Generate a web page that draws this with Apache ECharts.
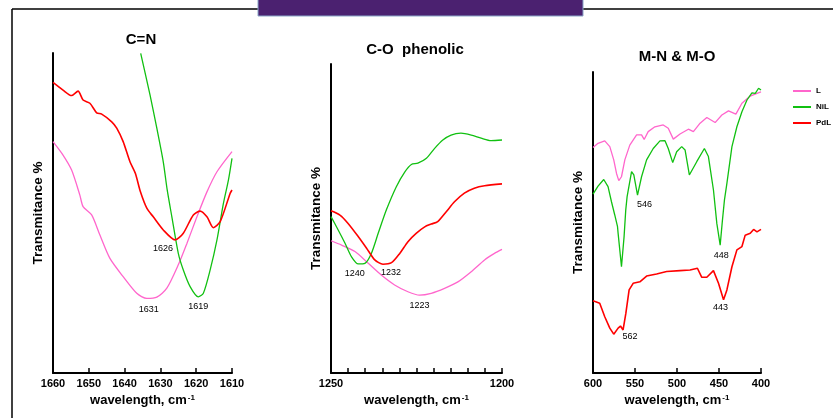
<!DOCTYPE html>
<html>
<head>
<meta charset="utf-8">
<script src="https://cdn.jsdelivr.net/npm/echarts@6/dist/echarts.min.js"></script>
<style>
    html, body { margin: 0; padding: 0; background: #fff; }
    #chart { width: 833px; height: 418px; }
</style>
</head>
<body>
<div id="chart"></div>
<script>
// 三个面板的数据 [波数, 透过率(相对)]
const seriesNames = ['L', 'NiL', 'PdL'];
const colors = ['#ff66cc', '#11c011', '#ff0000'];

// C=N
const cnL = [[1660,72.3],[1657.2,68.1],[1654.8,63.4],[1652.5,55.6],[1651.6,52.0],[1649.2,49.4],[1646.9,43.1],[1644.1,35.8],[1640.4,30.1],[1636.6,24.9],[1633.8,23.3],[1631,23.7],[1628.2,26.5],[1625,33.8],[1622.6,40.5],[1619.8,48.8],[1617,56.6],[1614.2,62.9],[1610,69.2]];
const cnNiL = [[1635.5,99.9],[1632.9,86.9],[1631,76.5],[1629.2,66.0],[1628.1,57.2],[1626.8,48.8],[1625,37.4],[1623.6,32.2],[1621.7,27.0],[1619.4,23.8],[1618,24.9],[1616.1,32.2],[1614.2,41.6],[1612.4,53.0],[1611,60.3],[1610,67.1]];
const cnPdL = [[1660,90.8],[1657.2,88.4],[1654.8,86.7],[1653.0,88.1],[1651.6,85.3],[1649.7,84.3],[1647.8,81.3],[1646.4,80.9],[1643.6,78.5],[1642.2,76.5],[1640.4,72.3],[1638.5,66.0],[1637,62.4],[1635.6,56.7],[1633.8,51.5],[1632,48.8],[1629.2,44.7],[1625.9,41.6],[1623.6,43.7],[1620.8,49.4],[1618.9,50.6],[1617,48.8],[1615.2,45.4],[1613.3,47.3],[1610.5,56.2],[1610,57.2]];

// C-O phenolic
const coL = [[1250,42.8],[1246.9,41.4],[1243,39.3],[1239.1,35.5],[1235.3,31.7],[1231.4,28.5],[1227.5,26.3],[1224.1,25.2],[1220.7,25.8],[1216.8,27.4],[1212.9,29.5],[1209,32.8],[1205.1,36.6],[1202.2,38.7],[1200,40.0]];
const coNiL = [[1250,50.6],[1247.9,46.3],[1245.9,42.0],[1244,37.6],[1242,35.3],[1240.1,35.5],[1238.2,38.7],[1236.2,45.2],[1233.8,52.8],[1230.9,60.3],[1228.4,65.1],[1226.5,67.5],[1224.6,67.9],[1222.1,69.5],[1219.7,72.7],[1217.3,75.4],[1214.9,77.0],[1212,77.6],[1209,77.0],[1206.1,76.0],[1203.2,75.2],[1200,75.4]];
const coPdL = [[1250,52.5],[1247.4,51.1],[1245,48.4],[1242,44.1],[1239.6,40.4],[1237.2,36.6],[1234.8,35.2],[1232.3,35.7],[1229.9,38.7],[1227.5,42.5],[1225.1,45.2],[1222.6,47.3],[1220.7,48.2],[1218.8,49.0],[1216.3,52.2],[1213.9,55.4],[1211,58.2],[1208.1,59.8],[1205.1,60.6],[1200,61.2]];

// M-N & M-O
const mnL = [[600,74.9],[594,76.3],[586,77.1],[580,75.2],[575.3,70.8],[572,66.3],[569.3,63.9],[566.1,65.2],[562.1,70.8],[556.2,75.7],[548.1,79.1],[542.2,79.1],[539.1,77.6],[534.3,80.2],[526.3,81.8],[516.4,82.4],[510.4,81.3],[504.4,77.7],[496.4,79.4],[486.5,81.0],[480.5,80.2],[472.5,83.0],[464.5,84.9],[454.6,83.2],[446.6,85.7],[438.7,87.1],[429.9,86.0],[422.7,89.6],[412.8,92.0],[404.8,92.9],[400,93.4]];
const mnNiL = [[600,59.4],[594,62.1],[587.2,64.3],[582.1,61.9],[578,56.9],[574.1,52.5],[570.8,48.6],[570.1,46.4],[566.1,35.3],[563,45.3],[561,54.2],[559.4,58.6],[554.1,66.9],[551.4,65.8],[547,59.1],[542.2,65.2],[536.2,70.8],[528.3,74.6],[520.3,77.1],[514.3,77.2],[510.4,74.6],[505.1,69.9],[500.4,73.5],[494.4,75.2],[490.4,74.1],[485.3,65.8],[476.5,70.2],[467.4,74.6],[462.6,71.9],[456.6,60.8],[452.6,49.7],[448.6,42.5],[445.9,50.8],[443.5,57.5],[440.6,63.0],[434.6,75.2],[428.7,81.8],[422.7,86.8],[416.7,90.7],[410.8,93.1],[406.8,92.9],[402.9,94.6],[400,94.0]];
const mnPdL = [[600,24.0],[592,23.2],[586,18.7],[580,14.9],[575.3,12.9],[570.1,14.9],[567.3,15.6],[564.2,14.3],[560.9,19.8],[557,27.6],[552.2,29.8],[544.2,30.3],[536.2,32.2],[524.3,32.9],[512.3,33.7],[496.4,34.0],[484.5,34.2],[475.7,34.8],[470.5,31.8],[464.5,31.8],[456.6,34.0],[450.6,29.8],[444.6,24.3],[440.6,27.6],[434.6,35.3],[428.7,40.9],[422.7,42.0],[418.8,45.8],[412.8,46.4],[408.8,47.7],[404.8,46.9],[400,47.7]];

// 峰值标注 [波数, 值, dx, dy, 文字]
const cnPeaks = [[[1631,23.7,-8,12,'1631']],[[1619.4,23.8,0,10,'1619']],[[1625.9,41.6,-12,9,'1626']]];
const coPeaks = [[[1224.1,25.2,0,10,'1223']],[[1241,35.4,-7,10,'1240']],[[1234.8,35.2,8,8,'1232']]];
const mnPeaks = [[],[[547,59.1,7,9,'546'],[448.6,42.5,1,10,'448']],[[564.2,14.3,7,7,'562'],[444.6,24.3,-3,8,'443']]];

const font = 'Arial, "Liberation Sans", sans-serif';

let myChart = echarts.init(document.getElementById('chart'));

const grids = [
    {left: 53, top: 53, width: 179, height: 320},
    {left: 331, top: 64, width: 171, height: 309},
    {left: 593, top: 72, width: 168, height: 301}
];

const xRanges = [
    {min: 1610, max: 1660, interval: 10},
    {min: 1200, max: 1250, interval: 5, only: [1200, 1250]},
    {min: 400, max: 600, interval: 50}
];

const xAxis = xRanges.map(function (r, i) {
    return {
        gridIndex: i,
        type: 'value',
        inverse: true,
        min: r.min,
        max: r.max,
        interval: r.interval,
        name: 'wavelength, cm{sup|-1}',
        nameLocation: 'middle',
        nameGap: 18,
        nameTextStyle: {
            color: '#000', fontWeight: 'bold', fontSize: 13, fontFamily: font,
            rich: {sup: {fontSize: 8, fontWeight: 'bold', verticalAlign: 'top', padding: [0, 0, 6, 1]}}
        },
        axisLine: {show: true, onZero: false, lineStyle: {color: '#000', width: 2}},
        axisTick: {show: true, inside: true, length: 5, lineStyle: {color: '#000', width: 1.5}},
        axisLabel: {
            color: '#000', fontWeight: 'bold', fontSize: 11, fontFamily: font, margin: 5,
            formatter: function (v) {
                if (r.only && r.only.indexOf(v) < 0) return '';
                return String(v);
            }
        },
        splitLine: {show: false}
    };
});

const yAxis = grids.map(function (g, i) {
    return {
        gridIndex: i,
        type: 'value',
        min: 0,
        max: 100,
        name: 'Transmitance %',
        nameLocation: 'middle',
        nameGap: 8,
        nameTextStyle: {color: '#000', fontWeight: 'bold', fontSize: 13.5, fontFamily: font},
        axisLine: {show: true, onZero: false, lineStyle: {color: '#000', width: 2}},
        axisTick: {show: false},
        axisLabel: {show: false},
        splitLine: {show: false}
    };
});

const panelData = [[cnL, cnNiL, cnPdL], [coL, coNiL, coPdL], [mnL, mnNiL, mnPdL]];
const panelPeaks = [cnPeaks, coPeaks, mnPeaks];

const series = [];
panelData.forEach(function (lines, p) {
    lines.forEach(function (d, k) {
        series.push({
            name: seriesNames[k],
            type: 'line',
            xAxisIndex: p,
            yAxisIndex: p,
            data: d,
            showSymbol: false,
            smooth: p === 2 ? false : 0.25,
            lineStyle: {color: colors[k], width: k === 2 ? 1.6 : 1.3},
            itemStyle: {color: colors[k]},
            markPoint: {
                symbol: 'circle',
                symbolSize: 0,
                silent: true,
                data: panelPeaks[p][k].map(function (pk) {
                    return {
                        coord: [pk[0], pk[1]],
                        value: pk[4],
                        label: {
                            show: true, formatter: pk[4], offset: [pk[2], pk[3]],
                            color: '#000', fontSize: 9, fontFamily: font
                        }
                    };
                })
            }
        });
    });
});

const option = {
    animation: false,
    backgroundColor: '#fff',
    grid: grids,
    xAxis: xAxis,
    yAxis: yAxis,
    legend: {
        data: seriesNames,
        orient: 'vertical',
        left: 788,
        top: 82,
        itemWidth: 18,
        itemHeight: 2,
        itemGap: 8,
        icon: 'rect',
        textStyle: {color: '#000', fontSize: 8, fontWeight: 'bold', fontFamily: font}
    },
    graphic: [
        {type: 'line', shape: {x1: 12, y1: 9, x2: 258, y2: 9}, style: {stroke: '#000', lineWidth: 1.5}},
        {type: 'line', shape: {x1: 583, y1: 9, x2: 833, y2: 9}, style: {stroke: '#000', lineWidth: 1.5}},
        {type: 'line', shape: {x1: 12, y1: 9, x2: 12, y2: 418}, style: {stroke: '#000', lineWidth: 1.5}},
        {type: 'rect', shape: {x: 258, y: -2, width: 325, height: 18}, style: {fill: '#4b2170', stroke: '#8aa6c8', lineWidth: 1}},
        {type: 'text', x: 141, y: 40, style: {text: 'C=N', textAlign: 'center', textVerticalAlign: 'middle', fill: '#000', font: 'bold 15px ' + font}},
        {type: 'text', x: 415, y: 50, style: {text: 'C-O  phenolic', textAlign: 'center', textVerticalAlign: 'middle', fill: '#000', font: 'bold 15px ' + font}},
        {type: 'text', x: 677, y: 57, style: {text: 'M-N & M-O', textAlign: 'center', textVerticalAlign: 'middle', fill: '#000', font: 'bold 15px ' + font}}
    ],
    series: series
};

myChart.setOption(option);
</script>
</body>
</html>
